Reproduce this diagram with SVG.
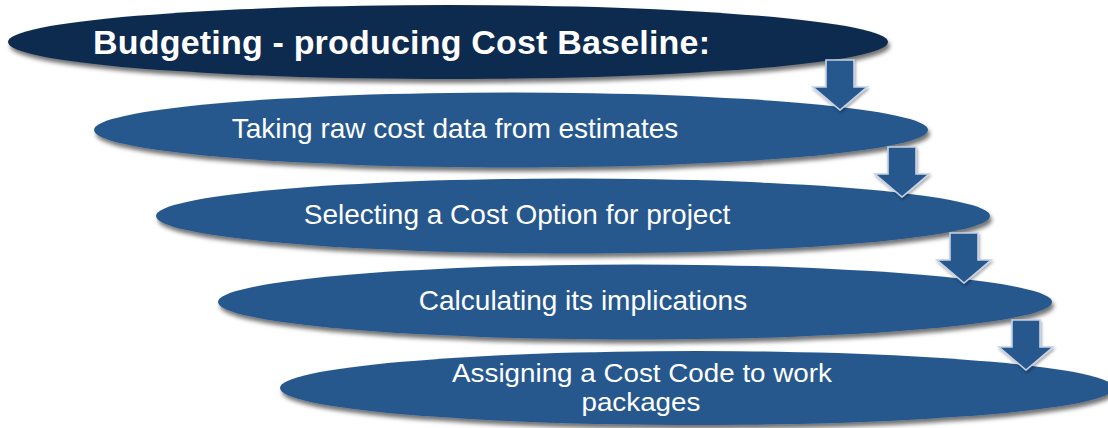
<svg xmlns="http://www.w3.org/2000/svg" width="1108" height="428" viewBox="0 0 1108 428">
<defs>
<filter id="sh" x="-5%" y="-30%" width="110%" height="170%">
<feDropShadow dx="2" dy="4" stdDeviation="2.2" flood-color="#000" flood-opacity="0.55"/>
</filter>
<filter id="ash" x="-30%" y="-20%" width="160%" height="150%">
<feDropShadow dx="1" dy="2" stdDeviation="1.5" flood-color="#000" flood-opacity="0.35"/>
</filter>
<path id="arr" d="M826,60 H854 V87 H867 L840,110 L813,87 H826 Z"/>
</defs>
<style>
.e1{fill:#0d2a4f;filter:url(#sh)}
.e{fill:#26598e;filter:url(#sh)}
.t{fill:#fff;font-family:"Liberation Sans",Arial,sans-serif;font-size:28px;text-anchor:middle}
.t2{fill:#fff;font-family:"Liberation Sans",Arial,sans-serif;font-size:25.5px;text-anchor:middle}
.h{fill:#fff;font-family:"Liberation Sans",Arial,sans-serif;font-size:34px;font-weight:bold;text-anchor:middle}
.a{fill:#26598e;stroke:#c3d1e6;stroke-width:1.6;stroke-linejoin:miter;filter:url(#ash)}
</style>
<rect width="1108" height="428" fill="#fff"/>
<g id="node-budgeting">
<ellipse class="e1" cx="448" cy="42" rx="440" ry="37"/>
<text class="h" x="401.5" y="54" textLength="617" lengthAdjust="spacing">Budgeting - producing Cost Baseline:</text>
</g>
<g id="node-taking">
<ellipse class="e" cx="511" cy="130" rx="417" ry="37.5"/>
<text class="t" x="455" y="137.5">Taking raw cost data from estimates</text>
</g>
<g id="node-selecting">
<ellipse class="e" cx="573" cy="216" rx="417" ry="37.5"/>
<text class="t" x="517" y="224">Selecting a Cost Option for project</text>
</g>
<g id="node-calculating">
<ellipse class="e" cx="635" cy="302" rx="417" ry="37.5"/>
<text class="t" x="583" y="310">Calculating its implications</text>
</g>
<g id="node-assigning">
<ellipse class="e" cx="697" cy="388" rx="417" ry="37"/>
<g transform="translate(642,0) scale(1.09,1)">
<text class="t2" x="0" y="382.5">Assigning a Cost Code to work</text>
<text class="t2" x="-1" y="411">packages</text>
</g>
</g>
<g id="connectors">
<use href="#arr" class="a"/>
<use href="#arr" class="a" transform="translate(62,87)"/>
<use href="#arr" class="a" transform="translate(124,173)"/>
<use href="#arr" class="a" transform="translate(186,260)"/>
</g>
</svg>
